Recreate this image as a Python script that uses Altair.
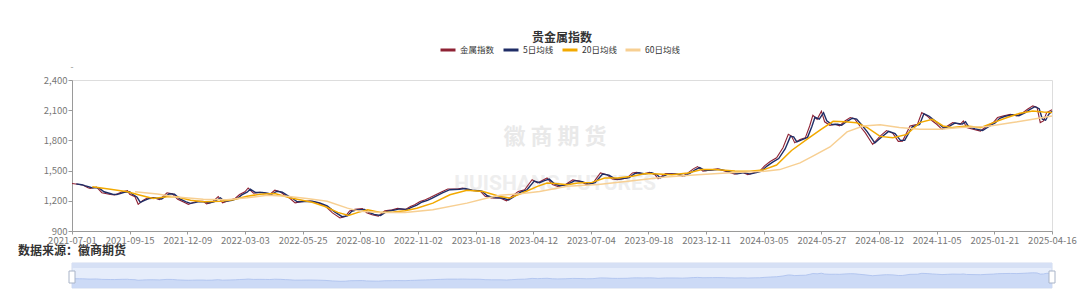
import altair as alt
import pandas as pd

# ---------------- data ----------------
tick_labels = ["2021-07-01", "2021-09-15", "2021-12-09", "2022-03-03", "2022-05-25",
               "2022-08-10", "2022-11-02", "2023-01-18", "2023-04-12", "2023-07-04",
               "2023-09-18", "2023-12-11", "2024-03-05", "2024-05-27", "2024-08-12",
               "2024-11-05", "2025-01-21", "2025-04-16"]
label_step = 54          # trading days between tick labels
last_day = 918           # index of 2025-04-16

series_names = ["金属指数", "5日均线", "20日均线", "60日均线"]
series_colors = ["#8e2234", "#1f2d66", "#f2a900", "#f7cf92"]

price_day = [0, 7, 10, 15, 17, 23, 28, 36, 40, 47, 52, 54, 59, 62, 66, 70, 76, 82, 89, 94,
             99, 105, 109, 113, 117, 123, 126, 131, 137, 141, 148, 153, 157, 162, 165, 170, 176, 181, 185, 190,
             195, 200, 204, 209, 215, 223, 230, 237, 244, 251, 256, 260, 265, 272, 276, 281, 287, 293, 300, 305,
             312, 317, 321, 326, 331, 335, 345, 352, 361, 366, 373, 382, 387, 393, 401, 407, 412, 418, 424, 431,
             436, 440, 445, 450, 455, 462, 469, 476, 482, 488, 495, 501, 506, 511, 520, 525, 529, 535, 541, 546,
             549, 556, 565, 572, 577, 582, 586, 591, 600, 605, 612, 621, 628, 633, 640, 644, 649, 654, 660, 666,
             671, 674, 677, 682, 687, 691, 694, 698, 702, 705, 710, 715, 719, 724, 729, 733, 738, 743, 750, 757,
             763, 769, 774, 778, 785, 792, 796, 801, 806, 810, 815, 820, 825, 832, 835, 838, 844, 851, 857, 863,
             867, 872, 879, 885, 891, 895, 900, 904, 907, 910, 913, 918]
price_val = [1372, 1362, 1357, 1330, 1322, 1337, 1280, 1262, 1258, 1290, 1300, 1265, 1240, 1165, 1200, 1225, 1232, 1212, 1280, 1270,
             1215, 1185, 1165, 1180, 1195, 1195, 1170, 1185, 1243, 1180, 1205, 1225, 1262, 1290, 1327, 1275, 1285, 1278, 1262, 1305,
             1290, 1250, 1225, 1180, 1192, 1198, 1180, 1150, 1080, 1030, 1043, 1100, 1115, 1122, 1080, 1062, 1048, 1100, 1110, 1125,
             1112, 1143, 1160, 1193, 1210, 1230, 1283, 1317, 1317, 1327, 1303, 1300, 1245, 1228, 1228, 1200, 1243, 1293, 1310, 1410,
             1377, 1400, 1427, 1362, 1343, 1360, 1408, 1393, 1360, 1377, 1477, 1460, 1417, 1410, 1427, 1477, 1483, 1467, 1483, 1460,
             1420, 1470, 1467, 1445, 1477, 1517, 1540, 1495, 1510, 1517, 1495, 1465, 1483, 1460, 1483, 1493, 1550, 1590, 1627, 1727,
             1860, 1843, 1777, 1810, 1827, 1943, 2050, 2010, 2090, 1985, 1950, 1960, 1945, 1993, 2027, 2015, 1943, 1877, 1760, 1843,
             1898, 1870, 1790, 1793, 1943, 1960, 2077, 2043, 1993, 1960, 1910, 1943, 1977, 1960, 1993, 1927, 1910, 1893, 1943, 1977,
             2027, 2043, 2060, 2043, 2077, 2110, 2143, 2127, 1977, 1993, 2077, 2105]

ma5_day = [4, 9, 12, 17, 19, 25, 30, 38, 42, 49, 54, 56, 61, 64, 68, 72, 78, 84, 91, 96,
           101, 107, 111, 115, 119, 125, 128, 133, 139, 143, 150, 155, 159, 164, 167, 172, 178, 183, 187, 192,
           197, 202, 206, 211, 217, 225, 232, 239, 246, 253, 258, 262, 267, 274, 278, 283, 289, 295, 302, 307,
           314, 319, 323, 328, 333, 337, 347, 354, 363, 368, 375, 384, 389, 395, 403, 409, 414, 420, 426, 433,
           438, 442, 447, 452, 457, 464, 471, 478, 484, 490, 497, 503, 508, 513, 522, 527, 531, 537, 543, 548,
           551, 558, 567, 574, 579, 584, 588, 593, 602, 607, 614, 623, 630, 635, 642, 646, 651, 656, 662, 668,
           673, 676, 679, 684, 689, 693, 696, 700, 704, 707, 712, 717, 721, 726, 731, 735, 740, 745, 752, 759,
           765, 771, 776, 780, 787, 794, 798, 803, 808, 812, 817, 822, 827, 834, 837, 840, 846, 853, 859, 865,
           869, 874, 881, 887, 893, 897, 902, 906, 909, 912, 915, 918]
ma5_val = [1368, 1360, 1350, 1335, 1328, 1330, 1290, 1265, 1262, 1285, 1290, 1270, 1235, 1185, 1205, 1222, 1228, 1218, 1270, 1265,
           1220, 1190, 1175, 1182, 1192, 1190, 1178, 1190, 1230, 1192, 1205, 1225, 1258, 1285, 1315, 1282, 1283, 1275, 1265, 1295,
           1285, 1252, 1228, 1190, 1192, 1195, 1180, 1150, 1090, 1042, 1050, 1095, 1110, 1115, 1085, 1065, 1055, 1095, 1108, 1120,
           1115, 1140, 1158, 1188, 1205, 1225, 1278, 1310, 1315, 1322, 1305, 1295, 1250, 1232, 1228, 1208, 1240, 1285, 1308, 1395,
           1380, 1398, 1415, 1368, 1350, 1362, 1400, 1390, 1365, 1380, 1465, 1455, 1422, 1415, 1430, 1470, 1478, 1468, 1478, 1458,
           1428, 1465, 1465, 1448, 1475, 1510, 1530, 1500, 1508, 1512, 1495, 1468, 1480, 1465, 1483, 1495, 1545, 1582, 1620, 1715,
           1840, 1835, 1785, 1808, 1830, 1935, 2030, 2012, 2075, 1995, 1958, 1960, 1950, 1990, 2020, 2012, 1950, 1885, 1775, 1838,
           1890, 1868, 1800, 1800, 1935, 1958, 2065, 2040, 1998, 1965, 1918, 1942, 1972, 1962, 1985, 1935, 1915, 1898, 1940, 1975,
           2020, 2040, 2055, 2045, 2075, 2105, 2135, 2115, 2010, 2000, 2060, 2090]

ma20_day = [19, 36, 52, 64, 76, 89, 98, 111, 123, 139, 151, 164, 176, 190, 204, 225, 237, 249, 259, 268,
            277, 289, 301, 312, 323, 338, 354, 370, 385, 401, 410, 422, 436, 445, 455, 464, 474, 487, 499, 511,
            525, 537, 549, 562, 577, 590, 602, 621, 635, 647, 660, 674, 689, 701, 713, 724, 735, 745, 757, 769,
            782, 794, 806, 816, 825, 838, 851, 863, 876, 888, 900, 910, 918]
ma20_val = [1340, 1315, 1290, 1255, 1222, 1240, 1240, 1205, 1190, 1195, 1210, 1245, 1265, 1272, 1230, 1185, 1143, 1085, 1055, 1085,
            1110, 1085, 1088, 1102, 1127, 1177, 1260, 1305, 1293, 1243, 1227, 1277, 1343, 1377, 1370, 1360, 1377, 1383, 1427, 1427,
            1443, 1470, 1467, 1460, 1477, 1510, 1510, 1495, 1493, 1505, 1555, 1700, 1815, 1905, 1990, 1985, 1975, 1927, 1840, 1827,
            1860, 1977, 2010, 1943, 1927, 1943, 1927, 1977, 2027, 2070, 2093, 2083, 2077]

ma60_day = [59, 80, 98, 123, 145, 164, 183, 201, 220, 239, 258, 270, 289, 312, 338, 370, 389, 401, 420, 438,
            464, 493, 525, 556, 586, 621, 649, 663, 682, 694, 710, 726, 741, 757, 775, 794, 813, 832, 857, 881,
            900, 918]
ma60_val = [1290, 1268, 1238, 1215, 1210, 1230, 1255, 1245, 1222, 1195, 1127, 1095, 1083, 1085, 1110, 1177, 1227, 1255, 1270, 1293,
            1345, 1362, 1400, 1437, 1460, 1480, 1493, 1510, 1577, 1643, 1735, 1885, 1943, 1955, 1927, 1910, 1910, 1927, 1937, 1977,
            2010, 2043]

y_ticks = [900, 1200, 1500, 1800, 2100, 2400]

# ---------------- build tables ----------------
rows = []
for name, days, vals in zip(series_names,
                            [price_day, ma5_day, ma20_day, ma60_day],
                            [price_val, ma5_val, ma20_val, ma60_val]):
    for d, v in zip(days, vals):
        rows.append({"day": d, "value": v, "series": name})
df = pd.DataFrame(rows)
price_df = pd.DataFrame({"day": price_day, "value": price_val})
one_row = pd.DataFrame({"k": [0]})

FONT = "Noto Sans CJK SC"
W, H = 980, 151

label_array = "[" + ",".join("'" + t + "'" for t in tick_labels) + "]"
x_axis = alt.Axis(values=[i * label_step for i in range(len(tick_labels))],
                  labelExpr=label_array + "[round(datum.value/" + str(label_step) + ")]",
                  title=None, grid=False, labelFlush=False, labelOverlap=False,
                  labelFont=FONT, labelFontSize=9.5, labelColor="#777777", labelPadding=1,
                  domainColor="#9a9a9a", tickColor="#9a9a9a", tickSize=3)
x_scale = alt.Scale(domain=[0, last_day], nice=False, zero=False)
x_enc = alt.X("day:Q", scale=x_scale, axis=x_axis)

y_axis = alt.Axis(values=y_ticks, format=",.0f", title=None, grid=False,
                  labelFont=FONT, labelFontSize=9.5, labelColor="#777777", labelPadding=1,
                  domainColor="#9a9a9a", tickColor="#9a9a9a", tickSize=4)
y_enc = alt.Y("value:Q", scale=alt.Scale(domain=[900, 2400], nice=False, zero=False), axis=y_axis)

color_enc = alt.Color("series:N",
                      scale=alt.Scale(domain=series_names, range=series_colors),
                      legend=alt.Legend(orient="none", legendX=367, legendY=-39, direction="horizontal",
                                        title=None, symbolType="stroke", symbolSize=225,
                                        symbolStrokeWidth=3, labelFont=FONT, labelFontSize=8.5,
                                        labelColor="#333333", columnPadding=2, labelOffset=3))

widths = [1.1, 1.4, 1.5, 1.5]
line_layers = []
for name, w in zip(series_names, widths):
    line_layers.append(
        alt.Chart(df).transform_filter(alt.datum.series == name)
        .mark_line(strokeWidth=w, interpolate="linear")
        .encode(x=x_enc, y=y_enc, color=color_enc)
    )

# watermark and annotation texts (one row each)
wm1 = alt.Chart(one_row).mark_text(text="徽 商 期 货", font=FONT, fontSize=22, fontWeight="bold",
                                    color="#e9e9e9").encode(x=alt.value(483), y=alt.value(57))
wm2 = alt.Chart(one_row).mark_text(text="HUISHANG FUTURES", font="Roboto", fontSize=21, fontWeight="bold",
                                    color="#eeeeee").encode(x=alt.value(483), y=alt.value(104))
dash = alt.Chart(one_row).mark_text(text="-", fontSize=9, color="#999999").encode(
    x=alt.value(0), y=alt.value(-13))
source = alt.Chart(one_row).mark_text(text="数据来源：徽商期货", font=FONT, fontSize=12, fontWeight="bold",
                                       color="#333333", align="left", baseline="middle").encode(
    x=alt.value(-54), y=alt.value(171))

main = alt.layer(wm1, wm2, *line_layers, dash, source)

# data-zoom slider under the axis
slider_y = alt.Scale(domain=[150, 3430], range=[208, 183], nice=False, zero=False)
slider_bg = alt.Chart(price_df).mark_rect(fill="#e6edfb", stroke="#d2dbee", strokeWidth=1).encode(
    x=alt.X("day:Q", aggregate="min", scale=x_scale), x2=alt.X2("day", aggregate="max"),
    y=alt.value(183), y2=alt.value(208))
slider_top = alt.Chart(price_df).mark_rect(fill="#d6e0f5").encode(
    x=alt.X("day:Q", aggregate="min", scale=x_scale), x2=alt.X2("day", aggregate="max"),
    y=alt.value(183), y2=alt.value(188))
slider_area = alt.Chart(price_df).mark_area(color="#c9d7f5", opacity=0.9,
                                              line={"color": "#a9bfee", "strokeWidth": 0.8}).encode(
    x=alt.X("day:Q", scale=x_scale),
    y=alt.Y("value:Q", scale=slider_y, axis=None),
    y2=alt.datum(150))
handle_df = pd.DataFrame({"day": [0, last_day]})
handles = alt.Chart(handle_df).mark_point(shape="M-0.5,-1L0.5,-1L0.5,1L-0.5,1Z", filled=True,
                                           fill="#ffffff", stroke="#a9b4c8", strokeWidth=1,
                                           size=144, opacity=1).encode(
    x=alt.X("day:Q", scale=x_scale), y=alt.value(197))

slider = alt.layer(slider_bg, slider_top, slider_area, handles)

chart = alt.layer(main, slider).resolve_scale(y="independent").properties(
    width=W, height=H,
    padding={"left": 18, "top": 32, "right": 2, "bottom": 2},
    title=alt.TitleParams(text="贵金属指数", anchor="middle", font=FONT, fontSize=12,
                          fontWeight="bold", color="#333333", offset=-4, frame="group"),
).configure_view(strokeWidth=0).configure(background="#ffffff")

chart.save("out.html", embed_options={"renderer": "svg", "actions": False})
